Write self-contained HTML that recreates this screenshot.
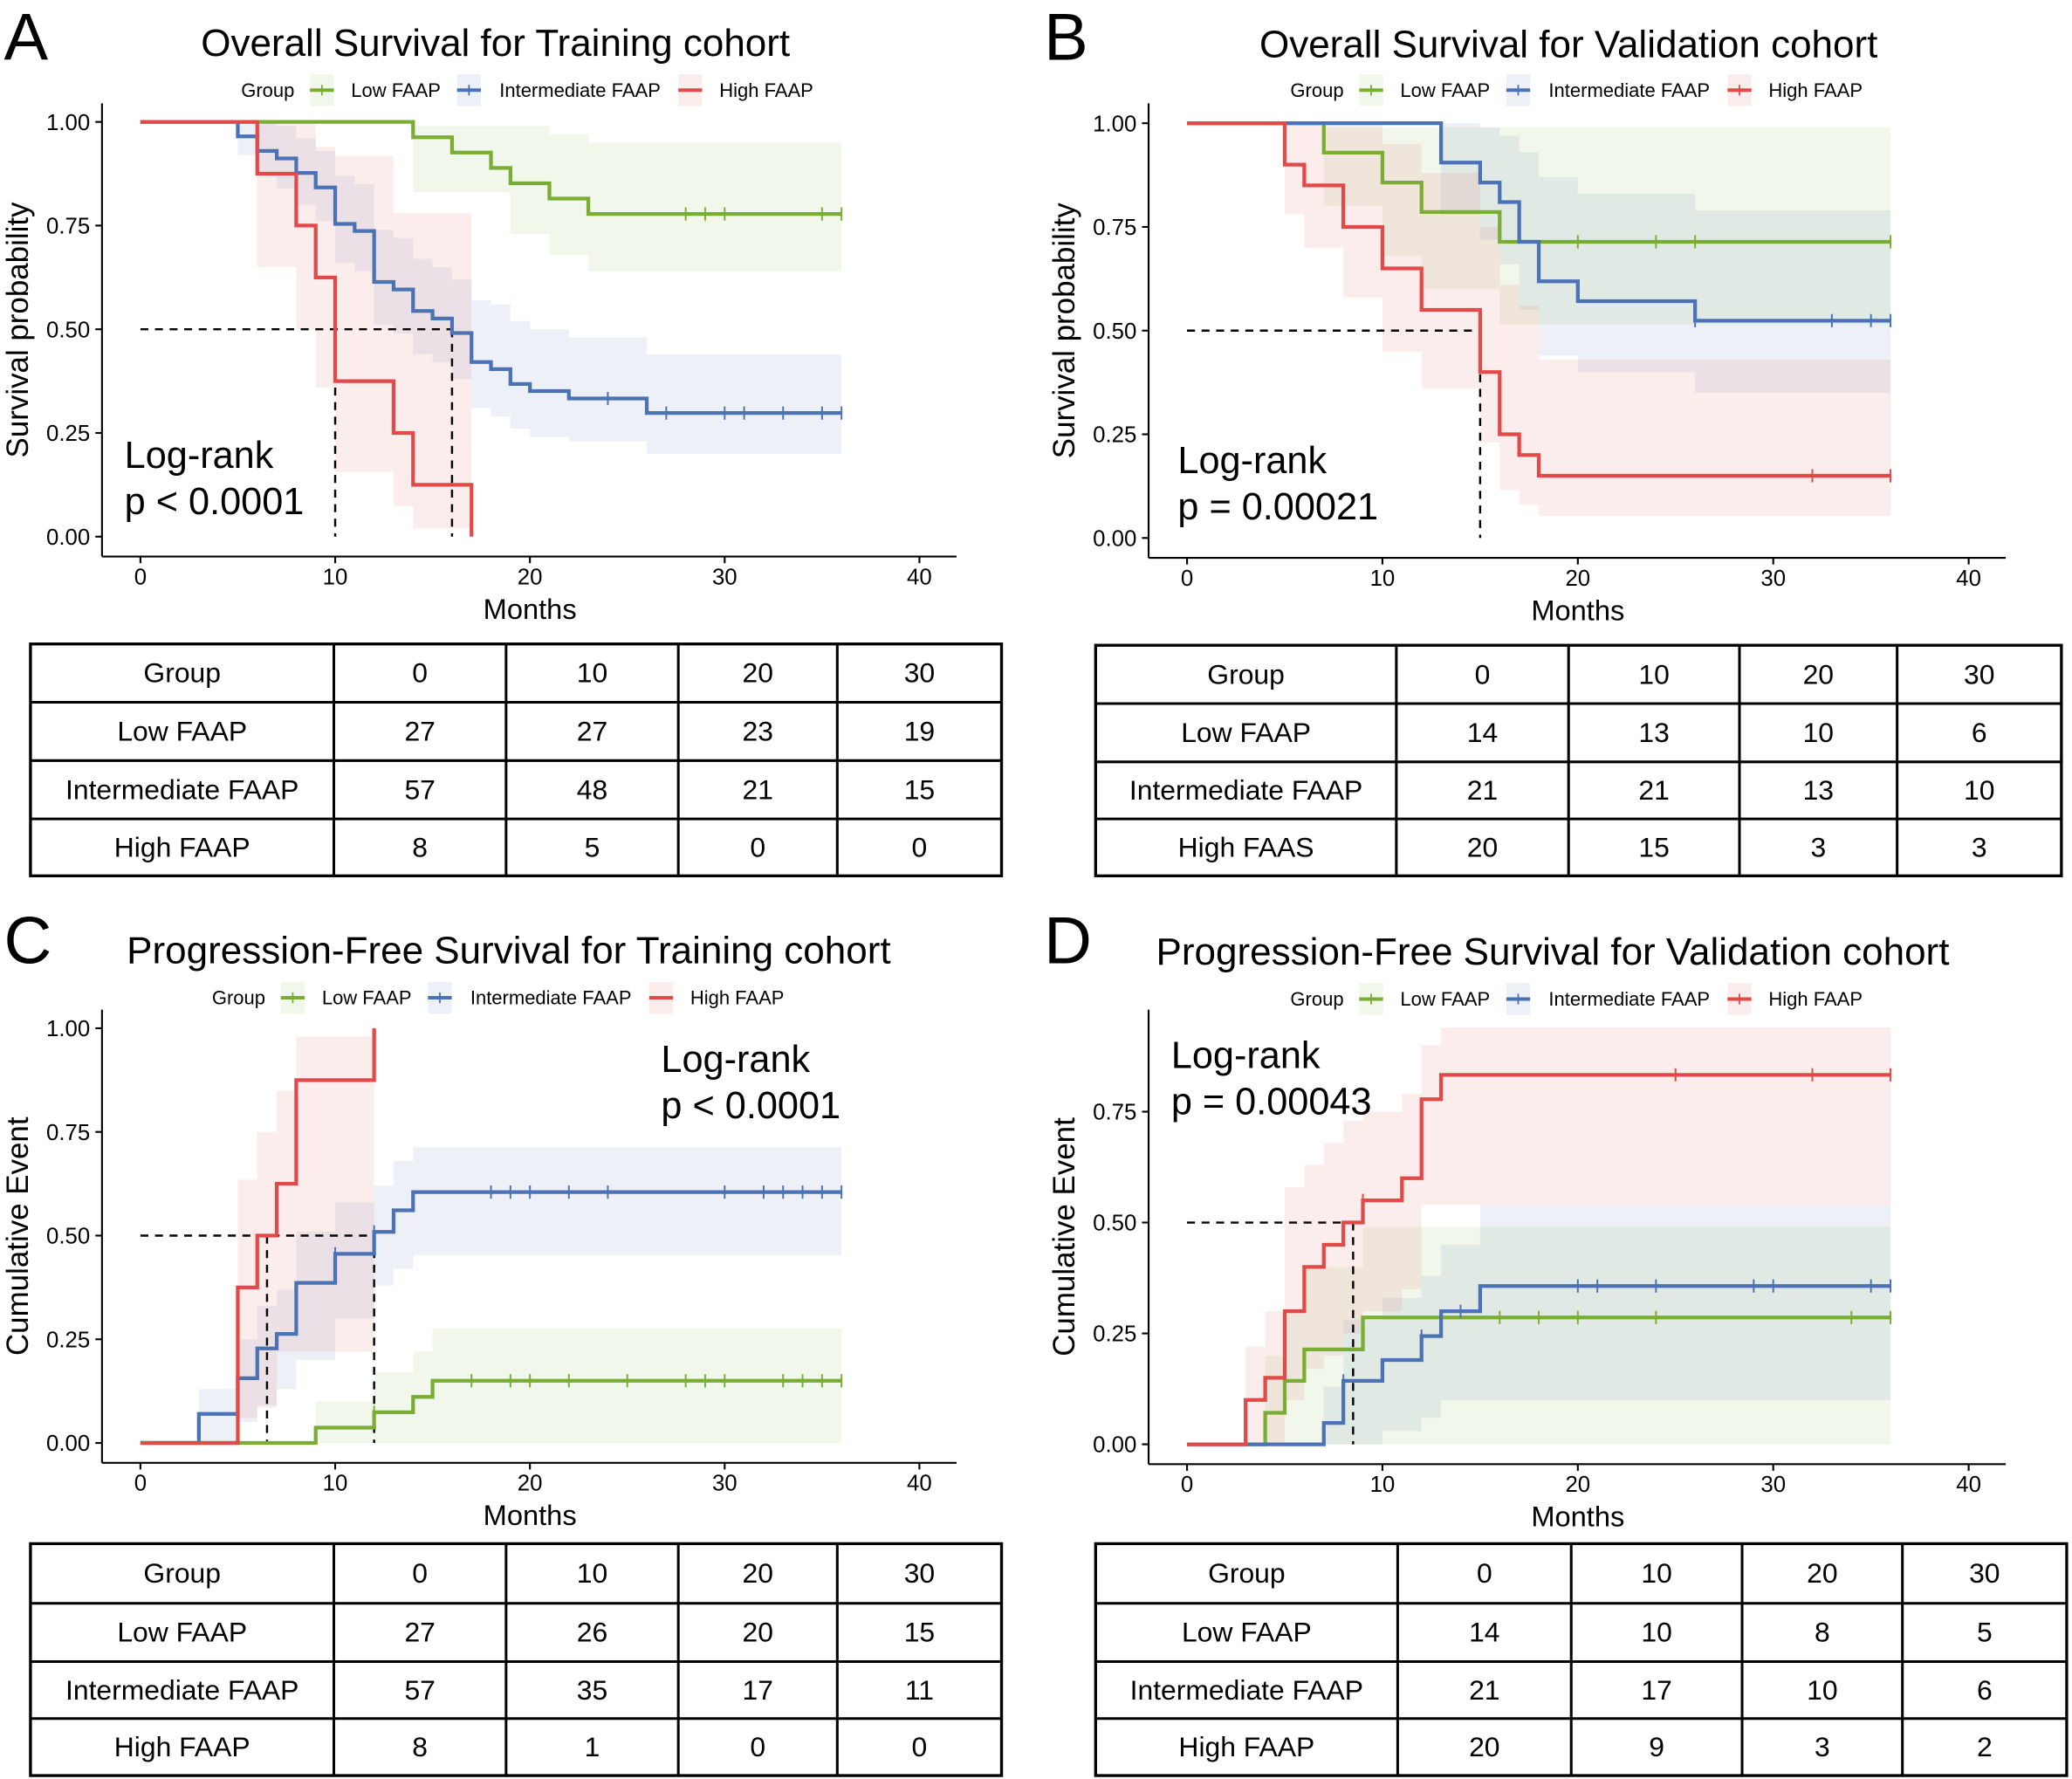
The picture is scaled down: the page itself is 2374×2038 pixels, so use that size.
<!DOCTYPE html>
<html><head><meta charset="utf-8"><style>
html,body{margin:0;padding:0;background:#fff}
svg{display:block}
text{font-family:"Liberation Sans",Arial,sans-serif;fill:#000}
</style></head><body>
<svg id="fig" width="2374" height="2038" viewBox="0 0 1564 1342.6" preserveAspectRatio="none" xmlns="http://www.w3.org/2000/svg"></svg>
<script>
// ---------- DATA ----------
const xTicks=[0,10,20,30,40];
const yTicks=[0,0.25,0.5,0.75,1];
const yTickLabels=["0.00","0.25","0.50","0.75","1.00"];
const groupNames=["Low FAAP","Intermediate FAAP","High FAAP"];
const tableCols=["0","10","20","30"];
// Panel A
const aLowT=[0,14,16,18,19,21,23], aLowV=[1,0.963,0.926,0.889,0.852,0.815,0.778];
const aLowCens=[28,29,30,35,36];
const aLowCiT=[0,14,16,19,21,23], aLowCiLo=[1,0.83,0.83,0.73,0.68,0.64], aLowCiHi=[1,0.99,0.99,0.99,0.97,0.95];
const aIntT=[0,5,6,7,8,9,10,11,12,13,14,15,16,17,18,19,20,22,26];
const aIntV=[1,0.965,0.93,0.912,0.877,0.842,0.754,0.737,0.614,0.596,0.544,0.526,0.491,0.421,0.404,0.368,0.351,0.333,0.298];
const aIntCens=[24,27,30,31,33,35,36];
const aIntCiLo=[1,0.92,0.87,0.84,0.80,0.76,0.66,0.64,0.51,0.49,0.44,0.42,0.38,0.31,0.29,0.26,0.24,0.23,0.20];
const aIntCiHi=[1,1,1,0.99,0.96,0.93,0.87,0.85,0.74,0.72,0.67,0.65,0.62,0.57,0.56,0.52,0.50,0.48,0.44];
const aHighT=[0,6,8,9,10,13,14,17], aHighV=[1,0.875,0.75,0.625,0.375,0.25,0.125,0];
const aHighCiLo=[1,0.65,0.5,0.36,0.156,0.074,0.02,0], aHighCiHi=[1,1,1,0.94,0.918,0.78,0.78,0];
const aTable=[["27","27","23","19"],["57","48","21","15"],["8","5","0","0"]];
// Panel B
const bLowT=[0,7,10,12,16], bLowV=[1,0.929,0.857,0.786,0.714], bLowCens=[20,24,26,36];
const bLowCiLo=[1,0.8,0.68,0.6,0.515], bLowCiHi=[1,0.99,0.99,0.99,0.99];
const bIntT=[0,13,15,16,17,18,20,26], bIntV=[1,0.905,0.857,0.81,0.714,0.619,0.571,0.524], bIntCens=[26,33,35,36];
const bIntCiLo=[1,0.78,0.72,0.66,0.55,0.44,0.40,0.35], bIntCiHi=[1,1,0.99,0.97,0.93,0.87,0.83,0.79];
const bHighT=[0,5,6,8,10,12,15,16,17,18], bHighV=[1,0.9,0.85,0.75,0.65,0.55,0.4,0.25,0.2,0.15], bHighCens=[32,36];
const bHighCiLo=[1,0.78,0.7,0.58,0.45,0.36,0.23,0.115,0.08,0.053], bHighCiHi=[1,1,1,1,0.95,0.88,0.75,0.61,0.56,0.43];
const bTable=[["14","13","10","6"],["21","21","13","10"],["20","15","3","3"]];
// Panel C
const cLowT=[0,9,12,14,15], cLowV=[0,0.037,0.074,0.111,0.15], cLowCens=[12,17,19,20,22,25,28,29,30,33,34,35,36];
const cLowCiLo=[0,0,0,0,0], cLowCiHi=[0,0.1,0.17,0.22,0.276];
const cIntT=[0,3,5,6,7,8,10,12,13,14], cIntV=[0,0.07,0.156,0.228,0.263,0.386,0.456,0.509,0.561,0.605];
const cIntCens=[10,12,18,19,20,22,24,30,32,33,34,35,36];
const cIntCiLo=[0,0,0.05,0.09,0.13,0.2,0.3,0.38,0.42,0.453], cIntCiHi=[0,0.13,0.25,0.33,0.37,0.51,0.58,0.62,0.68,0.713];
const cHighT=[0,5,6,7,8,12], cHighV=[0,0.375,0.5,0.625,0.875,1];
const cHighCiLo=[0,0.06,0.085,0.22,0.22,0.22], cHighCiHi=[0,0.635,0.75,0.85,0.98,0.98];
const cTable=[["27","26","20","15"],["57","35","17","11"],["8","1","0","0"]];
// Panel D
const dLowT=[0,4,5,6,9], dLowV=[0,0.071,0.143,0.214,0.286], dLowCens=[16,18,20,24,34,36];
const dLowCiLo=[0,0,0,0,0], dLowCiHi=[0,0.2,0.3,0.4,0.49];
const dIntT=[0,7,8,10,12,13,15], dIntV=[0,0.048,0.143,0.19,0.244,0.3,0.357], dIntCens=[8,12,14,20,21,24,29,30,35,36];
const dIntCiLo=[0,0,0,0.03,0.06,0.1,0.1], dIntCiHi=[0,0.13,0.28,0.33,0.38,0.45,0.54];
const dHighT=[0,3,4,5,6,7,8,9,11,12,13], dHighV=[0,0.1,0.15,0.3,0.4,0.45,0.5,0.55,0.6,0.778,0.833], dHighCens=[9,25,32,36];
const dHighCiLo=[0,0,0,0.1,0.17,0.2,0.25,0.3,0.35,0.54,0.54], dHighCiHi=[0,0.22,0.3,0.58,0.63,0.68,0.73,0.75,0.79,0.9,0.94];
const dTable=[["14","10","8","5"],["21","17","10","6"],["20","9","3","2"]];

// ---------- DRAW ----------
const NS="http://www.w3.org/2000/svg";
const svg=document.getElementById('fig');
const COL=["#7AAD33","#4A72B5","#E24A4A"];
function mk(tag,attrs,parent){const e=document.createElementNS(NS,tag);for(const k in attrs)e.setAttribute(k,attrs[k]);(parent||svg).appendChild(e);return e;}
function txt(s,x,y,size,anchor,parent){const e=mk('text',{x:x,y:y,'font-size':size,'text-anchor':anchor||'start'},parent);e.textContent=s;return e;}

function panel(P){
  const g=mk('g',{});
  
  
  const X=t=>P.x0+(P.x40-P.x0)*t/40;
  const Y=v=>P.y0+(P.y1-P.y0)*v;
  const L=txt(P.letter,P.lx,P.ly,50,'start',g);
  
  const T=txt(P.title,P.tx,P.ty,29,'middle',g);
  
  // legend
  const lg=mk('g',{},g);
  
  txt("Group",P.legX,P.legY+5,14.5,'start',lg);
  const legOff=[[52,83],[163,195],[330,361]];
  for(let i=0;i<3;i++){
    const bx=P.legX+legOff[i][0];
    mk('rect',{x:bx,y:P.legY-12,width:18,height:24,fill:COL[i],'fill-opacity':0.1},lg);
    mk('line',{x1:bx,x2:bx+18,y1:P.legY,y2:P.legY,stroke:COL[i],'stroke-width':2.6},lg);
    if(i!==2||P.legPlus)mk('line',{x1:bx+9,x2:bx+9,y1:P.legY-4,y2:P.legY+4,stroke:COL[i],'stroke-width':1.2},lg);
    const e=txt(groupNames[i],P.legX+legOff[i][1],P.legY+5,14.5,'start',lg);
    
  }
  // bands
  for(let i=0;i<3;i++){
    const s=P.series[i];const ct=s.ciT||s.t;const end=s.end;
    let up=[],lo=[];
    for(let k=0;k<ct.length;k++){const t2=k+1<ct.length?ct[k+1]:end;
      up.push([X(ct[k]),Y(s.hi[k])],[X(t2),Y(s.hi[k])]);lo.push([X(ct[k]),Y(s.lo[k])],[X(t2),Y(s.lo[k])]);}
    const pts=up.concat(lo.reverse()).map(p=>p.join(',')).join(' ');
    const b=mk('polygon',{points:pts,fill:COL[i],'fill-opacity':0.1,stroke:'none'},g);
    
  }
  // median lines
  const med=mk('g',{stroke:'#000','stroke-width':1.6,'stroke-dasharray':'6,5',fill:'none'},g);
  
  mk('line',{x1:X(0),x2:X(P.medH),y1:Y(0.5),y2:Y(0.5)},med);
  for(const m of P.medV)mk('line',{x1:X(m),x2:X(m),y1:Y(0.5),y2:Y(0)},med);
  // curves
  for(let i=0;i<3;i++){
    const s=P.series[i];let d='M'+X(s.t[0])+','+Y(s.v[0]);
    for(let k=1;k<s.t.length;k++){d+=' H'+X(s.t[k])+' V'+Y(s.v[k]);}
    d+=' H'+X(s.end);
    const p=mk('path',{d:d,fill:'none',stroke:COL[i],'stroke-width':2.8},g);
    
    for(const c of (s.cens||[])){
      let v=s.v[0];for(let k=0;k<s.t.length;k++)if(s.t[k]<=c)v=s.v[k];
      mk('line',{x1:X(c),x2:X(c),y1:Y(v)-5,y2:Y(v)+5,stroke:COL[i],'stroke-width':1.3},g);
    }
  }
  // axes
  const ax=mk('g',{stroke:'#000','stroke-width':1.4},g);
  
  mk('line',{x1:P.axL,x2:P.axL,y1:P.axT,y2:P.axB},ax);
  mk('line',{x1:P.axL,x2:P.axR,y1:P.axB,y2:P.axB},ax);
  xTicks.forEach(t=>{mk('line',{x1:X(t),x2:X(t),y1:P.axB,y2:P.axB+5},ax);
    const e=txt(String(t),X(t),P.axB+21,17,'middle',g);});
  yTicks.forEach((v,k)=>{if(v>P.ymax)return;mk('line',{x1:P.axL-5,x2:P.axL,y1:Y(v),y2:Y(v)},ax);
    const e=txt(yTickLabels[k],P.axL-9,Y(v)+6,17,'end',g);});
  const xt=txt("Months",X(20),P.axB+47,21.5,'middle',g);
  const yc=(P.axT+P.axB)/2;
  const yt=txt(P.ylab,0,0,23,'middle',g);yt.setAttribute('transform','translate('+(P.axL-56)+','+yc+') rotate(-90)');
  
  const lr=mk('g',{},g);
  txt("Log-rank",P.lrx,P.lry,28.5,'start',lr);txt(P.pval,P.lrx,P.lry+35,28.5,'start',lr);
  // table
  const tb=mk('g',{},g);
  const cx=P.tc,ry=P.tr;
  mk('rect',{x:cx[0],y:ry[0],width:cx[5]-cx[0],height:ry[4]-ry[0],fill:'none',stroke:'#000','stroke-width':2.2},tb);
  for(let k=1;k<5;k++)mk('line',{x1:cx[k],x2:cx[k],y1:ry[0],y2:ry[4],stroke:'#000','stroke-width':2},tb);
  for(let k=1;k<4;k++)mk('line',{x1:cx[0],x2:cx[5],y1:ry[k],y2:ry[k],stroke:'#000','stroke-width':2},tb);
  const rows=[["Group"].concat(tableCols)].concat(P.table.map((r,i)=>[P.rowNames[i]].concat(r)));
  rows.forEach((r,ri)=>r.forEach((c,ci)=>{const e=txt(c,(cx[ci]+cx[ci+1])/2,(ry[ri]+ry[ri+1])/2+7,21,'middle',tb);
    }));
}
function S(t,v,lo,hi,end,cens,ciT){return {t:t,v:v,lo:lo,hi:hi,end:end,cens:cens,ciT:ciT};}
panel({id:'a',letter:'A',lx:3,ly:45,title:'Overall Survival for Training cohort',tx:374,ty:42,legX:182,legY:68,legPlus:false,
  x0:106,x40:694,y1:92,y0:405,axL:77,axR:722,axT:78,axB:420,ymax:1,ylab:'Survival probability',lrx:94,lry:353,pval:'p < 0.0001',
  medH:16,medV:[10,16],
  series:[S(aLowT,aLowV,aLowCiLo,aLowCiHi,36,aLowCens,aLowCiT),S(aIntT,aIntV,aIntCiLo,aIntCiHi,36,aIntCens),S(aHighT,aHighV,aHighCiLo,aHighCiHi,17,[])],
  tc:[23,252,382,512,632,756],tr:[486,530,574,618,661],table:aTable,rowNames:["Low FAAP","Intermediate FAAP","High FAAP"]});
panel({id:'b',letter:'B',lx:788,ly:45,title:'Overall Survival for Validation cohort',tx:1184,ty:43,legX:974,legY:68,legPlus:true,
  x0:896,x40:1486,y1:93,y0:406,axL:867,axR:1514,axT:78,axB:421,ymax:1,ylab:'Survival probability',lrx:889,lry:357,pval:'p = 0.00021',
  medH:15,medV:[15],
  series:[S(bLowT,bLowV,bLowCiLo,bLowCiHi,36,bLowCens),S(bIntT,bIntV,bIntCiLo,bIntCiHi,36,bIntCens),S(bHighT,bHighV,bHighCiLo,bHighCiHi,36,bHighCens)],
  tc:[827,1054,1184,1313,1432,1556],tr:[487,531,575,618,661],table:bTable,rowNames:["Low FAAP","Intermediate FAAP","High FAAS"]});
panel({id:'c',letter:'C',lx:3,ly:727,title:'Progression-Free Survival for Training cohort',tx:384,ty:727,legX:160,legY:753,legPlus:false,
  x0:106,x40:694,y1:776,y0:1089,axL:77,axR:722,axT:762,axB:1104,ymax:1,ylab:'Cumulative Event',lrx:499,lry:809,pval:'p < 0.0001',
  medH:12,medV:[6.5,12],
  series:[S(cLowT,cLowV,cLowCiLo,cLowCiHi,36,cLowCens),S(cIntT,cIntV,cIntCiLo,cIntCiHi,36,cIntCens),S(cHighT,cHighV,cHighCiLo,cHighCiHi,12,[])],
  tc:[23,252,382,512,632,756],tr:[1165,1210,1254,1297,1340],table:cTable,rowNames:["Low FAAP","Intermediate FAAP","High FAAP"]});
panel({id:'d',letter:'D',lx:788,ly:727,title:'Progression-Free Survival for Validation cohort',tx:1172,ty:728,legX:974,legY:754,legPlus:true,
  x0:896,x40:1486,y1:755.3,y0:1090,axL:867,axR:1514,axT:762,axB:1105,ymax:0.8,ylab:'Cumulative Event',lrx:884,lry:806,pval:'p = 0.00043',
  medH:8.5,medV:[8.5],
  series:[S(dLowT,dLowV,dLowCiLo,dLowCiHi,36,dLowCens),S(dIntT,dIntV,dIntCiLo,dIntCiHi,36,dIntCens),S(dHighT,dHighV,dHighCiLo,dHighCiHi,36,dHighCens)],
  tc:[827,1055,1186,1315,1436,1560],tr:[1165,1210,1254,1297,1340],table:dTable,rowNames:["Low FAAP","Intermediate FAAP","High FAAP"]});
</script>
</body></html>
